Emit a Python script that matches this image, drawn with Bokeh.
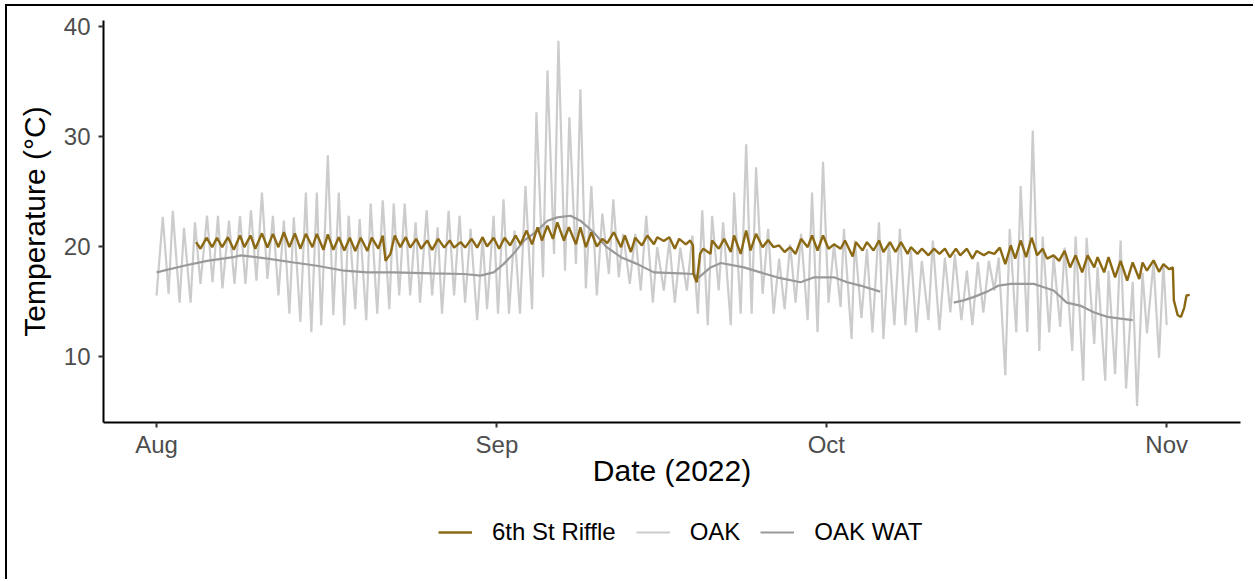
import pandas as pd
from bokeh.plotting import figure
from bokeh.layouts import column
from bokeh.models import Range1d, FixedTicker, DatetimeTickFormatter, Legend
from bokeh.embed import file_html
from bokeh.resources import INLINE

START = "2022-08-01"

# Days since 2022-08-01 00:00 and temperatures (deg C)
riffle_day = [3.6, 4.0, 4.55, 5.07, 5.5, 5.98, 6.5, 7.04, 7.6, 8.0, 8.56, 9.0, 9.6, 10.1, 10.6, 11.1,
              11.6, 12.1, 12.6, 13.1, 13.6, 14.2, 14.6, 15.2, 15.6, 16.1, 16.6, 17.1, 17.6, 18.1,
              18.6, 19.2, 19.6, 20.2, 20.6, 20.86, 21.3, 21.7, 22.2, 22.7, 23.1, 23.65, 24.1, 24.65,
              25.1, 25.65, 26.2, 26.7, 27.1, 27.7, 28.1, 28.7, 29.2, 29.7, 30.1, 30.7, 31.2, 31.7,
              32.2, 32.7, 33.15, 33.7, 34.2, 34.7, 35.1, 35.6, 36.1, 36.5, 37.1, 37.55, 38.2, 38.6,
              39.1, 39.6, 40.1, 40.6, 41.05, 41.65, 42.3, 42.65, 43.2, 43.6, 44.2, 44.7, 45.3, 45.6,
              46.2, 46.7, 47.2, 47.6, 48.2, 48.6, 48.85, 48.9, 49.2, 49.5, 49.8, 50.45, 50.6, 51.2,
              51.7, 52.3, 52.6, 53.2, 53.7, 54.1, 54.6, 55.2, 55.7, 56.2, 56.7, 57.2, 57.7, 58.2,
              58.7, 59.3, 59.7, 60.2, 60.7, 61.2, 61.7, 62.3, 62.7, 63.4, 63.7, 64.3, 64.7, 65.3,
              65.8, 66.2, 66.8, 67.3, 67.8, 68.4, 68.7, 69.3, 69.7, 70.3, 70.8, 71.3, 71.8, 72.25,
              72.8, 73.2, 73.8, 74.3, 74.7, 75.35, 75.8, 76.3, 76.8, 77.3, 77.8, 78.2, 78.7, 79.2,
              79.7, 80.2, 80.7, 81.1, 81.7, 82.2, 82.7, 83.2, 83.7, 84.3, 84.8, 85.4, 85.7, 86.3,
              86.7, 87.3, 87.8, 88.4, 88.9, 89.5, 89.8, 90.2, 90.8, 91.3, 91.7, 92.2, 92.56, 92.65,
              93.0, 93.3, 93.6, 93.8, 94.1]
riffle_temp = [20.4, 19.8, 20.8, 19.94, 20.8, 19.94, 20.85, 19.7, 21.0, 19.94, 21.0, 19.8, 21.2, 19.9,
               21.15, 19.94, 21.3, 19.94, 21.2, 19.8, 21.15, 19.94, 21.15, 19.7, 21.1, 19.7, 20.85,
               19.64, 20.8, 19.6, 20.8, 19.6, 20.8, 19.8, 21.0, 18.7, 19.33, 21.0, 19.94, 20.85, 19.9,
               20.7, 19.8, 20.55, 19.7, 20.7, 19.9, 20.55, 19.9, 20.4, 19.9, 20.7, 19.9, 20.85, 20.0,
               20.8, 19.8, 20.8, 20.1, 21.0, 20.2, 21.45, 20.2, 21.75, 20.55, 21.9, 20.7, 22.2, 20.55,
               21.75, 20.2, 21.75, 19.94, 21.3, 20.0, 20.7, 20.3, 21.3, 19.94, 21.0, 19.5, 20.8, 20.1,
               21.0, 20.2, 20.85, 20.5, 20.85, 19.8, 20.7, 20.2, 20.55, 20.1, 17.5, 16.75, 19.33,
               19.8, 19.33, 20.55, 19.8, 20.7, 19.5, 21.0, 19.33, 21.45, 19.64, 21.15, 19.94, 20.6,
               19.94, 20.1, 19.5, 19.94, 19.33, 20.7, 19.94, 21.0, 19.64, 21.0, 19.8, 20.2, 19.8,
               20.55, 19.1, 20.4, 19.64, 20.4, 19.64, 20.55, 19.5, 20.4, 19.5, 20.4, 19.33, 19.94,
               19.33, 19.8, 19.2, 19.8, 19.33, 19.8, 19.03, 19.8, 19.2, 19.8, 18.9, 19.6, 19.2, 19.5,
               19.33, 19.9, 18.4, 20.1, 18.9, 20.55, 19.03, 20.8, 19.2, 19.8, 18.9, 19.2, 18.7, 19.6,
               18.1, 19.2, 17.65, 19.2, 18.1, 19.03, 17.65, 19.03, 17.2, 18.7, 16.9, 18.55, 17.05,
               18.55, 17.8, 18.75, 17.7, 18.4, 17.95, 18.1, 15.1, 13.75, 13.6, 14.45, 15.55, 15.6]

oak_day = [0.0, 0.57, 1.1, 1.48, 2.1, 2.5, 3.1, 3.5, 4.0, 4.6, 5.1, 5.6, 6.0, 6.6, 7.1, 7.6, 8.1, 8.6,
           9.1, 9.6, 10.1, 10.6, 11.1, 11.6, 12.1, 12.5, 13.1, 13.6, 14.1, 14.6, 15.0, 15.6, 16.1,
           16.6, 17.1, 17.5, 18.1, 18.5, 19.1, 19.5, 20.1, 20.6, 21.2, 21.6, 22.1, 22.6, 23.1, 23.6,
           24.0, 24.6, 25.1, 25.6, 26.0, 26.6, 27.1, 27.6, 28.1, 28.6, 29.2, 29.7, 30.1, 30.7, 31.1,
           31.6, 32.1, 32.6, 33.1, 33.6, 34.2, 34.6, 35.2, 35.6, 36.2, 36.6, 37.2, 37.6, 38.2, 38.6,
           39.1, 39.6, 40.1, 40.6, 41.2, 41.6, 42.1, 42.5, 43.1, 43.6, 44.1, 44.6, 45.2, 45.6, 46.2,
           46.7, 47.2, 47.7, 48.3, 48.8, 49.3, 49.7, 50.2, 50.6, 51.2, 51.6, 52.3, 52.6, 53.2, 53.7,
           54.2, 54.6, 55.2, 55.7, 56.2, 56.7, 57.2, 57.7, 58.2, 58.7, 59.3, 59.7, 60.2, 60.7, 61.2,
           61.7, 62.3, 62.6, 63.3, 63.6, 64.2, 64.7, 65.2, 65.8, 66.2, 66.7, 67.2, 67.7, 68.2, 68.7,
           69.2, 69.7, 70.3, 70.7, 71.3, 71.8, 72.3, 72.7, 73.3, 73.8, 74.3, 74.8, 75.3, 75.8, 76.3,
           76.7, 77.3, 77.7, 78.3, 78.7, 79.3, 79.8, 80.4, 80.7, 81.3, 81.7, 82.3, 82.7, 83.4, 83.7,
           84.4, 84.7, 85.4, 85.7, 86.4, 86.7, 87.3, 87.8, 88.3, 88.9, 89.3, 89.8, 90.2, 90.8, 91.3,
           91.7, 92.0]
oak_temp = [15.55, 22.7, 15.7, 23.25, 14.9, 21.7, 14.9, 22.2, 16.6, 22.8, 16.75, 22.8, 16.2, 22.35,
            16.6, 22.8, 16.6, 23.3, 16.9, 24.9, 17.05, 22.8, 15.55, 22.35, 13.9, 22.65, 13.15, 24.9,
            12.2, 24.9, 12.85, 28.3, 13.75, 24.9, 12.85, 22.8, 14.3, 22.5, 13.3, 23.9, 13.9, 24.2,
            14.3, 23.9, 15.55, 23.9, 15.55, 22.2, 14.9, 23.3, 15.55, 21.75, 13.9, 23.25, 15.55, 22.8,
            14.9, 21.6, 13.3, 20.85, 14.3, 22.8, 13.9, 24.3, 13.9, 21.45, 13.9, 25.5, 14.3, 32.2,
            17.2, 36.0, 19.33, 38.7, 17.8, 31.75, 18.4, 34.3, 16.2, 25.5, 15.55, 23.0, 17.5, 24.3,
            17.2, 21.15, 16.6, 21.15, 16.0, 22.8, 14.9, 19.94, 16.0, 20.55, 14.9, 19.9, 16.0, 21.0,
            13.9, 23.3, 12.85, 22.8, 16.0, 22.2, 12.85, 24.9, 13.9, 29.3, 13.9, 27.2, 15.7, 21.6,
            13.9, 18.9, 14.3, 20.2, 14.9, 21.15, 13.3, 24.9, 12.2, 27.7, 14.9, 20.2, 14.5, 21.6,
            11.6, 20.55, 13.5, 19.8, 12.2, 22.2, 11.6, 20.4, 12.85, 21.6, 12.85, 19.6, 12.2, 18.7,
            13.3, 20.55, 12.4, 19.0, 14.0, 19.3, 13.3, 17.8, 12.85, 18.6, 14.0, 18.7, 16.0, 19.0,
            8.3, 21.6, 12.2, 25.5, 12.2, 30.55, 10.5, 20.9, 12.2, 19.1, 12.7, 19.9, 10.5, 20.9, 7.8,
            20.8, 11.15, 18.1, 7.8, 17.8, 8.4, 20.55, 7.1, 16.8, 5.5, 17.6, 12.1, 18.6, 9.9, 18.4,
            12.85]

NAN = float("nan")
oakwat_day = [0.0, 2.5, 4.6, 7.0, 7.65, 10.1, 12.5, 14.6, 17.1, 19.2, 21.6, 25.0, 28.0, 29.5, 30.7,
              31.6, 32.5, 33.5, 34.7, 35.6, 36.5, 37.7, 38.6, 39.8, 41.0, 42.3, 43.8, 45.3, 47.7,
              48.9, 49.4, 50.45, 51.4, 53.5, 55.0, 56.5, 58.65, 59.9, 61.7, 62.9, 64.1, 65.9, 69.0,
              72.6, 73.5, 74.4, 75.65, 76.7, 77.8, 79.9, 80.8, 81.7, 82.9, 84.2, 85.4, 86.6, 87.8,
              88.9]
oakwat_temp = [17.65, 18.25, 18.7, 19.03, 19.2, 18.9, 18.55, 18.25, 17.8, 17.65, 17.65, 17.55, 17.5,
               17.35, 17.65, 18.4, 19.33, 20.55, 21.45, 22.35, 22.65, 22.8, 22.35, 21.3, 19.94,
               19.03, 18.4, 17.65, 17.55, 17.5, 17.2, 18.1, 18.5, 18.1, 17.65, 17.2, 16.75, 17.2,
               17.2, 16.75, 16.45, 15.9, NAN, 14.9, 15.1, 15.4, 15.9, 16.45, 16.6, 16.6, 16.3, 16.0,
               14.9, 14.6, 14.0, 13.6, 13.45, 13.3]

series_names = ["6th St Riffle", "OAK", "OAK WAT"]
series_colors = ["#8B6914", "#CCCCCC", "#999999"]
month_ticks = ["2022-08-01", "2022-09-01", "2022-10-01", "2022-11-01"]
y_ticks = [10, 20, 30, 40]

t0 = pd.Timestamp(START)


def to_time(days):
    return t0 + pd.to_timedelta(days, unit="D")


FONT = "Liberation Sans"
W = 1248

p = figure(width=W, height=500, x_axis_type="datetime", output_backend="svg",
           toolbar_location=None,
           x_range=Range1d(to_time(-4.83), to_time(98.72)),
           y_range=Range1d(4.0, 40.55),
           min_border_left=96, min_border_right=15, min_border_top=14, min_border_bottom=84)
p.outline_line_color = None
p.xgrid.visible = False
p.ygrid.visible = False

r_oak = p.line(to_time(oak_day), oak_temp, line_color=series_colors[1], line_width=2.2)
r_wat = p.line(to_time(oakwat_day), oakwat_temp, line_color=series_colors[2], line_width=2.2)
r_rif = p.line(to_time(riffle_day), riffle_temp, line_color=series_colors[0], line_width=2.4)

tick_ms = [pd.Timestamp(t).value / 1e6 for t in month_ticks]
p.xaxis.ticker = FixedTicker(ticks=tick_ms)
p.xaxis.formatter = DatetimeTickFormatter(hours="%b", days="%b", months="%b", years="%b")
p.yaxis.ticker = FixedTicker(ticks=y_ticks)

for ax in (p.xaxis[0], p.yaxis[0]):
    ax.axis_line_width = 2
    ax.axis_line_color = "black"
    ax.major_tick_line_color = "#333333"
    ax.major_tick_line_width = 2
    ax.major_tick_in = 0
    ax.major_tick_out = 5
    ax.minor_tick_line_color = None
    ax.major_label_text_font = FONT
    ax.major_label_text_font_size = "24px"
    ax.major_label_text_color = "#4D4D4D"
    ax.axis_label_text_font = FONT
    ax.axis_label_text_font_size = "30px"
    ax.axis_label_text_font_style = "normal"
    ax.axis_label_text_color = "black"

p.xaxis.axis_label = "Date (2022)"
p.yaxis.axis_label = "Temperature (°C)"
p.xaxis.major_label_standoff = 3
p.xaxis.axis_label_standoff = -7
p.yaxis.major_label_standoff = 8
p.yaxis.axis_label_standoff = 10

# legend strip below the chart (its frame is aligned with the chart's frame)
leg = figure(width=W, height=75, output_backend="svg", toolbar_location=None,
             x_range=Range1d(0, 1), y_range=Range1d(0, 1),
             x_axis_location=None, y_axis_location=None, min_border=0)
leg.outline_line_color = None
leg.xgrid.visible = False
leg.ygrid.visible = False
# key-only renderers, kept outside the visible range
d_rif = leg.line([-5, -4], [-5, -4], line_color=series_colors[0], line_width=2.4)
d_oak = leg.line([-5, -4], [-5, -4], line_color=series_colors[1], line_width=2.2)
d_wat = leg.line([-5, -4], [-5, -4], line_color=series_colors[2], line_width=2.2)

legend = Legend(items=[(series_names[0], [d_rif]), (series_names[1], [d_oak]), (series_names[2], [d_wat])],
                orientation="horizontal", location=(335, 35))
legend.label_text_font = FONT
legend.label_text_font_size = "24px"
legend.label_text_color = "black"
legend.glyph_width = 34
legend.glyph_height = 22
legend.label_standoff = 20
legend.spacing = 20
legend.padding = 0
legend.margin = 0
legend.border_line_color = None
legend.background_fill_alpha = 0
leg.add_layout(legend, "center")

page = column(p, leg, spacing=0)
page.styles = {"box-shadow": "-2px -2px 0px 0px #000000",
               "margin-top": "6px", "margin-left": "7px"}

open("out.html", "w").write(file_html(page, INLINE))
